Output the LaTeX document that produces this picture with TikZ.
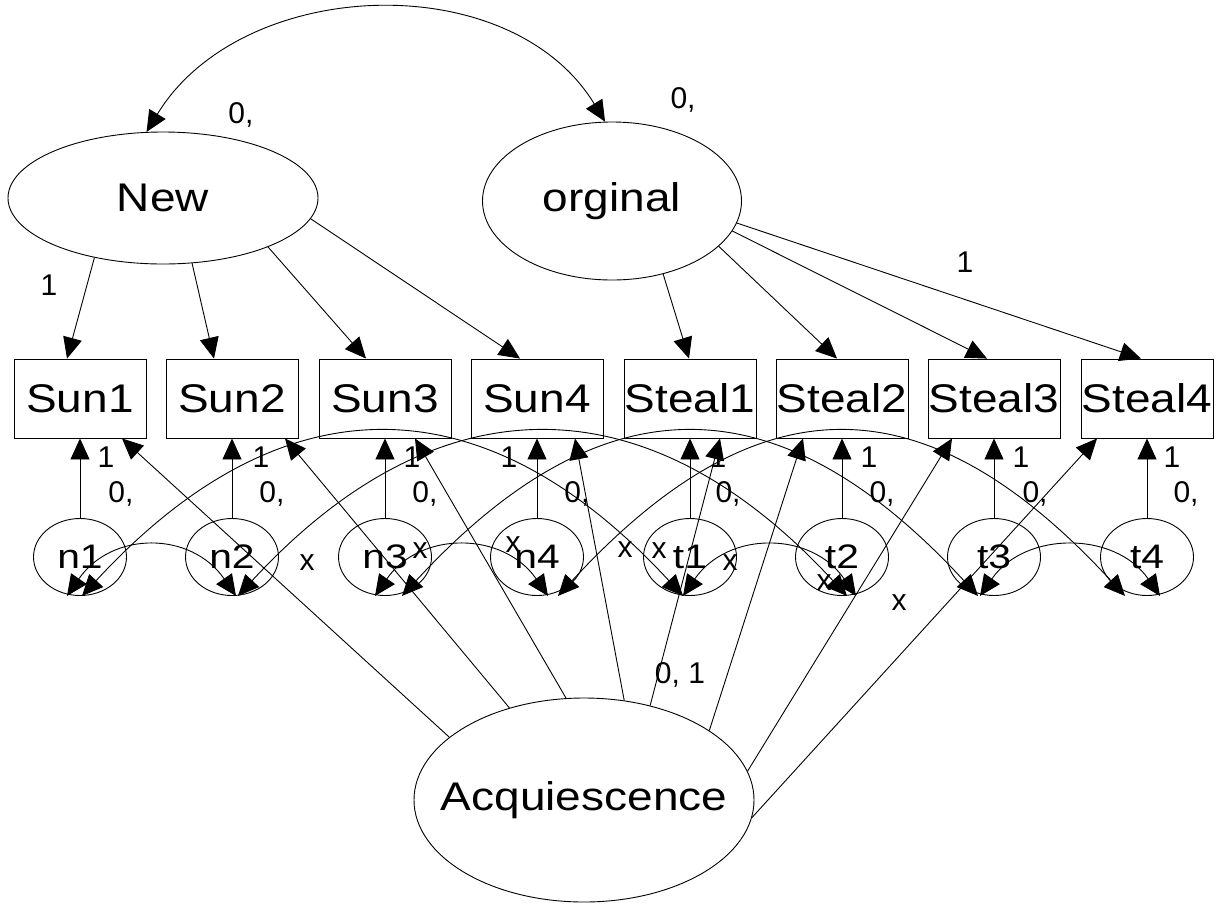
\documentclass[tikz,border=0pt]{standalone}
\usepackage{fontspec}
\setmainfont{Liberation Sans}
\newfontfamily\bigfont{Liberation Sans}[FakeStretch=1.15]
\newfontfamily\errfont{Liberation Sans}[FakeStretch=1.2]
\usetikzlibrary{shapes.geometric,arrows.meta,calc}
\begin{document}
\begin{tikzpicture}[x=1pt,y=-1pt,
  >={Triangle[length=21pt,width=19pt]},
  every path/.style={line width=0.9pt},
  latent/.style={draw, ellipse, inner sep=0pt, line width=0.9pt, font=\bigfont\fontsize{40}{44}\selectfont},
  obs/.style={draw, rectangle, minimum width=132pt, minimum height=79pt, inner sep=0pt, line width=0.9pt, font=\bigfont\fontsize{40}{44}\selectfont},
  err/.style={draw, ellipse, minimum width=93pt, minimum height=77pt, inner sep=0pt, line width=0.9pt, font=\errfont\fontsize{34}{38}\selectfont},
  lbl/.style={inner sep=0pt, anchor=base, font=\fontsize{30}{34}\selectfont},
  conn/.style={->},
  cov/.style={<->}]
\useasboundingbox (0,0) rectangle (1217,903);

% latent variables
\node[latent, minimum width=310pt, minimum height=132pt] (New) at (163,198) {\makebox[0pt]{New}};
\node[latent, minimum width=259pt, minimum height=158pt] (Org) at (612,201) {\makebox[0pt]{orginal}};
\node[latent, minimum width=340pt, minimum height=204pt] (Acq) at (584,800) {\makebox[0pt]{Acquiescence}};

% observed variables
\node[obs] (Sun1) at (80,398.5) {Sun1};
\node[obs] (Sun2) at (232,398.5) {Sun2};
\node[obs] (Sun3) at (385,398.5) {Sun3};
\node[obs] (Sun4) at (537,398.5) {Sun4};
\node[obs] (Steal1) at (690,398.5) {Steal1};
\node[obs] (Steal2) at (842,398.5) {Steal2};
\node[obs] (Steal3) at (994,398.5) {Steal3};
\node[obs] (Steal4) at (1147,398.5) {Steal4};

% error terms
\node[err] (n1) at (80,557) {\makebox[0pt]{n1}};
\node[err] (n2) at (232,557) {\makebox[0pt]{n2}};
\node[err] (n3) at (385,557) {\makebox[0pt]{n3}};
\node[err] (n4) at (537,557) {\makebox[0pt]{n4}};
\node[err] (t1) at (690,557) {\makebox[0pt]{t1}};
\node[err] (t2) at (842,557) {\makebox[0pt]{t2}};
\node[err] (t3) at (994,557) {\makebox[0pt]{t3}};
\node[err] (t4) at (1147,557) {\makebox[0pt]{t4}};

% factor loadings
\draw[conn] (New.221) -- ([xshift=-13pt]Sun1.north);
\draw[conn] (New.294) -- ([xshift=-18pt]Sun2.north);
\draw[conn] (New.335) -- ([xshift=-19pt]Sun3.north);
\draw[conn] (New.-8) -- ([xshift=-17pt]Sun4.north);
\draw[conn] (Org.-55) -- ([xshift=-1pt]Steal1.north);
\draw[conn] (Org.-23) -- ([xshift=-5pt]Steal2.north);
\draw[conn] (Org.-14) -- ([xshift=-7pt]Steal3.north);
\draw[conn] (Org.-10) -- ([xshift=-6pt]Steal4.north);

% acquiescence loadings
\draw[conn] (Acq.155) -- ([xshift=42pt]Sun1.south);
\draw[conn] (Acq.129) -- ([xshift=53pt]Sun2.south);
\draw[conn] (Acq.100) -- ([xshift=30pt]Sun3.south);
\draw[conn] (Acq.68) -- ([xshift=38pt]Sun4.south);
\draw[conn] (Acq.55) -- ([xshift=30pt]Steal1.south);
\draw[conn] (Acq.29) -- ([xshift=-39pt]Steal2.south);
\draw[conn] (Acq.10) -- ([xshift=-42pt]Steal3.south);
\draw[conn] (Acq.-6) -- ([xshift=-50pt]Steal4.south);

% error paths
\foreach \e/\o in {n1/Sun1,n2/Sun2,n3/Sun3,n4/Sun4,t1/Steal1,t2/Steal2,t3/Steal3,t4/Steal4}
  \draw[conn] (\e) -- (\o);

% covariance between factors
\coordinate (NewTop) at (New.104);
\coordinate (OrgTop) at (Org.95);
\draw[cov] (NewTop) .. controls ($(NewTop)+(95,-156)$) and ($(OrgTop)+(-95,-156)$) .. (OrgTop);

% endpoints of error covariances
\coordinate (n1s) at ([xshift=-13pt]n1.south);
\coordinate (n1l) at ([xshift=2pt]n1.south);
\coordinate (n2s) at ([xshift=4pt]n2.south);
\coordinate (n2l) at ([xshift=6pt]n2.south);
\coordinate (n3s) at ([xshift=-10pt]n3.south);
\coordinate (n3l) at ([xshift=17pt]n3.south);
\coordinate (n4s) at ([xshift=11pt]n4.south);
\coordinate (n4l) at ([xshift=21pt]n4.south);
\coordinate (t1s) at ([xshift=-7pt]t1.south);
\coordinate (t1l) at ([xshift=-7pt]t1.south);
\coordinate (t2s) at ([xshift=14pt]t2.south);
\coordinate (t2l) at ([xshift=5pt]t2.south);
\coordinate (t3s) at ([xshift=-14pt]t3.south);
\coordinate (t3l) at ([xshift=-16pt]t3.south);
\coordinate (t4s) at ([xshift=13pt]t4.south);
\coordinate (t4l) at ([xshift=-22pt]t4.south);

% short covariances
\foreach \a/\b in {n1s/n2s,n3s/n4s,t1s/t2s,t3s/t4s}
  \draw[cov] (\a) .. controls ($(\a)+(45,-65)$) and ($(\b)+(-45,-65)$) .. (\b);
% long covariances
\foreach \a/\b in {n1l/t1l,n2l/t2l,n3l/t3l,n4l/t4l}
  \draw[cov] (\a) .. controls ($(\a)+(200,-217)$) and ($(\b)+(-200,-217)$) .. (\b);

% labels
\node[lbl] (c1) at (241,123) {0,};
\node[lbl] (c2) at (683,108) {0,};
\node[lbl] (f1) at (49,295) {1};
\node[lbl] (f2) at (965,272) {1};
\node[lbl] (aq) at (680,683) {0, 1};

\node[lbl] (e1) at (106,467) {1};
\node[lbl] (e2) at (261,467) {1};
\node[lbl] (e3) at (412,467) {1};
\node[lbl] (e4) at (509,467) {1};
\node[lbl] (e5) at (718,467) {1};
\node[lbl] (e6) at (869,467) {1};
\node[lbl] (e7) at (1021,467) {1};
\node[lbl] (e8) at (1172,467) {1};

\node[lbl] (v1) at (121,502) {0,};
\node[lbl] (v2) at (272,502) {0,};
\node[lbl] (v3) at (425,502) {0,};
\node[lbl] (v4) at (577,502) {0,};
\node[lbl] (v5) at (728,502) {0,};
\node[lbl] (v6) at (882,502) {0,};
\node[lbl] (v7) at (1035,502) {0,};
\node[lbl] (v8) at (1186,502) {0,};

\node[lbl] (x1) at (307,570) {x};
\node[lbl] (x2) at (420,558) {x};
\node[lbl] (x3) at (513,552) {x};
\node[lbl] (x4) at (625,557) {x};
\node[lbl] (x5) at (659,558) {x};
\node[lbl] (x6) at (730,570) {x};
\node[lbl] (x7) at (824,590) {x};
\node[lbl] (x8) at (899,610) {x};
\end{tikzpicture}
\end{document}
